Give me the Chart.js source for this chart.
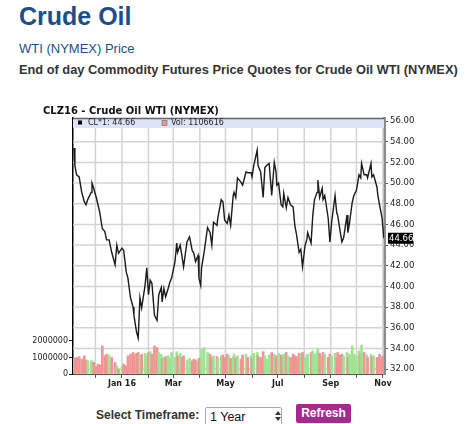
<!DOCTYPE html>
<html>
<head>
<meta charset="utf-8">
<script src="https://cdn.jsdelivr.net/npm/chart.js@4.4.1/dist/chart.umd.min.js"></script>
<style>
body { margin:0; background:#fff; width:471px; height:424px; overflow:hidden; position:relative; font-family:"Liberation Sans", Arial, sans-serif; }
.abs { position:absolute; white-space:nowrap; line-height:1; }
#h1 { left:19px; top:4px; font-size:25px; font-weight:bold; color:#1b4f8c; }
#h2 { left:19px; top:42px; font-size:13px; color:#1b4f8c; }
#h3 { left:19px; top:64px; font-size:12.8px; font-weight:bold; color:#333; }
#wrap { position:absolute; left:0; top:100px; width:471px; height:300px; }
#ctitle { left:43px; top:106px; font-family:"DejaVu Sans"; font-size:10px; font-weight:bold; color:#111; }
#tf { left:96px; top:409px; font-size:12px; font-weight:bold; color:#333; }
#sel { position:absolute; left:205px; top:407px; width:77px; height:20px; border:1px solid #a9a9a9; border-radius:2px; box-sizing:border-box; background:#fff; }
#sel span { position:absolute; left:4px; top:3px; font-size:12.5px; line-height:1; color:#111; }
.arr { position:absolute; left:69px; width:0; height:0; border-left:3px solid transparent; border-right:3px solid transparent; }
#up { top:3px; border-bottom:4px solid #333; }
#dn { top:9px; border-top:4px solid #333; }
#btn { position:absolute; left:296px; top:404px; width:55px; height:19px; background:#a8288f; border-radius:2px; color:#fff; font-size:12px; font-weight:bold; line-height:19px; text-align:center; }
</style>
</head>
<body>
<div class="abs" id="h1">Crude Oil</div>
<div class="abs" id="h2">WTI (NYMEX) Price</div>
<div class="abs" id="h3">End of day Commodity Futures Price Quotes for Crude Oil WTI (NYMEX)</div>
<div id="wrap"><canvas id="oilChart"></canvas></div>
<div class="abs" id="ctitle">CLZ16 - Crude Oil WTI (NYMEX)</div>
<div class="abs" id="tf">Select Timeframe:</div>
<div id="sel"><span>1 Year</span><div class="arr" id="up"></div><div class="arr" id="dn"></div></div>
<div id="btn">Refresh</div>
<script>
// Days counted from 2015-11-01
const priceDays = [
    5, 6, 8, 11, 14, 17, 19, 21, 25, 26, 28, 31, 33, 35, 38, 41, 43, 46, 49, 53,
    55, 57, 61, 63, 66, 68, 71, 74, 75, 78, 80, 82, 84, 88, 90, 92, 94, 96, 99, 102,
    104, 107, 108, 110, 112, 115, 117, 119, 123, 125, 126, 129, 131, 133, 137, 140, 143, 145, 147, 150,
    151, 153, 154, 157, 161, 164, 166, 168, 172, 173, 177, 179, 181, 184, 186, 188, 191, 192, 194, 196,
    200, 202, 206, 208, 212, 213, 215, 219, 220, 223, 226, 228, 230, 233, 236, 239, 241, 242, 244, 247,
    249, 250, 253, 255, 258, 261, 263, 265, 268, 270, 272, 275, 277, 278, 282, 284, 286, 289, 290, 292,
    295, 296, 298, 302, 304, 306, 310, 312, 313, 316, 318, 320, 324, 325, 327, 330, 332, 335, 338, 340,
    341, 344, 347, 348, 352, 353, 355, 359, 360, 362, 365, 367
];

// CL*1 settle price
const priceValues = [
    53.4, 51.7, 50.8, 50.6, 49.1, 48.2, 47.9, 48.4, 49.1, 50.0, 49.5, 48.6, 47.9, 47.2, 45.6, 45.3, 44.5, 44.5, 43.3, 42.1,
    44.0, 43.2, 43.7, 43.5, 41.4, 40.8, 38.9, 38.0, 37.2, 35.6, 35.0, 38.9, 37.9, 40.1, 41.8, 39.2, 40.6, 40.3, 37.2, 36.7,
    39.2, 39.9, 38.5, 39.8, 39.0, 39.8, 40.4, 40.8, 42.4, 44.2, 43.3, 44.0, 43.0, 41.9, 44.3, 44.8, 43.5, 43.2, 42.4, 43.0,
    40.8, 40.1, 41.8, 43.3, 45.7, 45.2, 44.0, 46.2, 45.9, 46.6, 48.4, 48.2, 46.4, 46.1, 46.9, 45.9, 48.8, 49.1, 48.6, 50.5,
    50.1, 49.8, 51.1, 51.0, 51.0, 50.6, 51.7, 53.2, 51.7, 51.1, 48.6, 51.5, 51.7, 51.9, 48.8, 52.0, 51.1, 49.8, 50.0, 47.9,
    47.7, 49.0, 47.6, 48.6, 47.9, 47.7, 45.9, 45.0, 43.3, 43.6, 41.9, 44.0, 44.5, 45.2, 44.2, 46.9, 48.4, 49.1, 50.3, 48.6,
    49.5, 48.4, 48.8, 46.6, 44.3, 46.2, 48.8, 47.1, 46.9, 45.3, 44.3, 44.7, 46.9, 45.2, 46.2, 48.1, 48.8, 49.3, 50.8, 50.5,
    51.9, 50.8, 50.8, 50.5, 51.9, 50.6, 50.8, 49.6, 48.8, 47.9, 46.6, 44.66
];

// Volume, millions of contracts
const volumeM = [
    0.9, 0.95, 1.0, 1.05, 0.9, 1.1, 0.85, 0.8, 0.75, 0.8, 0.7, 0.45, 0.6, 0.55, 1.7, 1.1, 1.2, 1.15, 1.0, 0.7,
    0.5, 0.3, 0.45, 0.6, 0.5, 1.1, 1.2, 1.3, 1.15, 1.25, 1.3, 1.1, 1.2, 1.25, 1.1, 1.3, 1.35, 1.2, 1.7, 1.6,
    1.3, 1.2, 0.95, 1.0, 1.05, 1.1, 0.95, 1.3, 1.0, 1.35, 1.1, 1.25, 1.0, 1.1, 0.85, 0.95, 0.8, 0.9, 0.85, 0.75,
    0.95, 1.0, 1.5, 1.6, 1.3, 1.2, 1.0, 1.1, 1.05, 0.95, 1.1, 1.15, 1.0, 1.2, 1.1, 0.95, 1.05, 1.2, 1.0, 1.1,
    0.9, 1.15, 1.2, 1.0, 1.1, 0.95, 1.25, 1.3, 1.1, 1.0, 1.35, 1.1, 0.9, 1.15, 1.3, 1.2, 1.0, 1.1, 1.25, 1.15,
    1.0, 1.2, 1.3, 1.1, 1.0, 1.2, 1.1, 1.05, 1.25, 1.2, 1.3, 1.0, 1.15, 1.2, 1.3, 1.4, 1.2, 1.35, 1.5, 1.25,
    1.1, 1.3, 1.2, 1.0, 1.2, 1.1, 1.25, 1.0, 1.3, 1.15, 1.2, 1.1, 1.3, 1.0, 1.2, 1.7, 1.2, 1.1, 1.4, 1.2,
    1.75, 1.3, 1.15, 1.0, 1.2, 1.05, 1.1, 1.0, 0.95, 1.2, 1.05, 1.106616
];

const monthTicks = [30, 61, 92, 121, 152, 182, 213, 243, 274, 305, 335, 366];
const monthLabels = ['', 'Jan 16', '', 'Mar', '', 'May', '', 'Jul', '', 'Sep', '', 'Nov'];
const priceTicks = [32, 34, 36, 38, 40, 42, 44, 46, 48, 50, 52, 54, 56];
const volTicks = [0, 1, 2];
const volTickLabels = ['0', '1000000', '2000000'];

const ctx = document.getElementById('oilChart').getContext('2d');
const tickFont = { family: 'DejaVu Sans', size: 8 };
const gridColor = '#d3d3d3';

// up/down colouring of volume bars
const volColors = priceValues.map((p, i) =>
    i === 0 || p >= priceValues[i - 1] ? 'rgb(158,228,146)' : 'rgb(240,148,148)');

// grid drawn from the scales' own ticks, under the data
const decor = {
    id: 'decor',
    beforeDatasetsDraw(chart) {
        const a = chart.chartArea;
        const c = chart.ctx;
        const xs = chart.scales.x;
        const ys = chart.scales.yPrice;
        c.save();
        c.strokeStyle = gridColor;
        c.lineWidth = 1.5;
        c.beginPath();
        monthTicks.forEach(v => {
            const px = xs.getPixelForValue(v);
            if (px > a.left + 1 && px < a.right - 1) {
                c.moveTo(px, a.top);
                c.lineTo(px, a.bottom);
            }
        });
        priceTicks.forEach(v => {
            const py = ys.getPixelForValue(v);
            c.moveTo(a.left, py);
            c.lineTo(a.right, py);
        });
        c.stroke();
        c.fillStyle = '#dde3f9';
        c.fillRect(a.left, a.top, a.right - a.left, 10);
        c.strokeStyle = '#666';
        c.lineWidth = 1.5;
        c.beginPath();
        c.moveTo(a.left, a.top + 0.5);
        c.lineTo(a.right, a.top + 0.5);
        c.stroke();
        c.restore();
    },
    afterDraw(chart) {
        const a = chart.chartArea;
        const c = chart.ctx;
        const last = priceValues[priceValues.length - 1];
        const lastVol = Math.round(volumeM[volumeM.length - 1] * 1e6);
        c.save();
        c.font = '8px "DejaVu Sans"';
        c.textBaseline = 'middle';
        c.fillStyle = '#000';
        c.fillRect(a.left + 5, a.top + 2.5, 4, 4);
        c.fillStyle = '#222';
        c.fillText('CL*1: ' + last.toFixed(2), a.left + 15, a.top + 5);
        c.fillStyle = 'rgb(240,148,148)';
        c.fillRect(a.left + 89, a.top + 2.5, 5, 5);
        c.strokeStyle = '#555';
        c.lineWidth = 0.5;
        c.strokeRect(a.left + 89, a.top + 2.5, 5, 5);
        c.fillStyle = '#222';
        c.fillText('Vol: ' + lastVol, a.left + 98, a.top + 5);

        const y = chart.scales.yPrice.getPixelForValue(last);
        c.font = '8.5px "DejaVu Sans"';
        c.fillStyle = '#000';
        c.fillRect(a.right + 4, y - 5.5, 25, 11);
        c.fillStyle = '#fff';
        c.fillText(last.toFixed(2), a.right + 5, y + 0.5);
        c.restore();
    }
};

new Chart(ctx, {
    data: {
        datasets: [{
            type: 'line',
            label: 'CL*1',
            data: priceDays.map((d, i) => ({ x: d, y: priceValues[i] })),
            yAxisID: 'yPrice',
            borderColor: '#1a1a1a',
            borderWidth: 1.4,
            pointRadius: 0,
            tension: 0,
            order: 0
        }, {
            type: 'bar',
            label: 'Vol',
            data: priceDays.map((d, i) => ({ x: d, y: volumeM[i] })),
            yAxisID: 'yVol',
            backgroundColor: volColors,
            barThickness: 2,
            grouped: false,
            order: 1
        }]
    },
    options: {
        responsive: true,
        maintainAspectRatio: false,
        animation: false,
        layout: { padding: { top: 18, bottom: 6, left: 0, right: 0 } },
        plugins: {
            legend: { display: false },
            tooltip: { enabled: false }
        },
        scales: {
            x: {
                type: 'linear',
                offset: false,
                min: 3.8,
                max: 367.2,
                afterBuildTicks: s => { s.ticks = monthTicks.map(v => ({ value: v })); },
                afterFit: s => { s.height = 20; },
                ticks: {
                    autoSkip: false,
                    maxRotation: 0,
                    padding: 1,
                    color: '#222',
                    font: { family: 'DejaVu Sans', size: 8, weight: 'bold' },
                    callback: (v, i) => monthLabels[i]
                },
                grid: { offset: false, drawOnChartArea: false, tickColor: '#555', tickLength: 4 },
                border: { color: '#555', width: 1 }
            },
            yVol: {
                position: 'left',
                min: 0,
                max: 15.5,
                afterBuildTicks: s => { s.ticks = volTicks.map(v => ({ value: v })); },
                afterFit: s => { s.width = 73; },
                ticks: { padding: 1, color: '#222', font: tickFont, callback: (v, i) => volTickLabels[i] },
                grid: { drawOnChartArea: false, tickColor: '#222', tickLength: 4 },
                border: { color: '#000', width: 1.5 }
            },
            yPrice: {
                position: 'right',
                min: 31.52,
                max: 56.3,
                afterBuildTicks: s => { s.ticks = priceTicks.map(v => ({ value: v })); },
                afterFit: s => { s.width = 87; },
                ticks: { padding: 2, color: '#222', font: { family: 'DejaVu Sans', size: 8.5 }, callback: v => v.toFixed(2) },
                grid: { drawOnChartArea: false, tickColor: '#555', tickLength: 4 },
                border: { color: '#8c8c8c', width: 3 }
            }
        }
    },
    plugins: [decor]
});
</script>
</body>
</html>
